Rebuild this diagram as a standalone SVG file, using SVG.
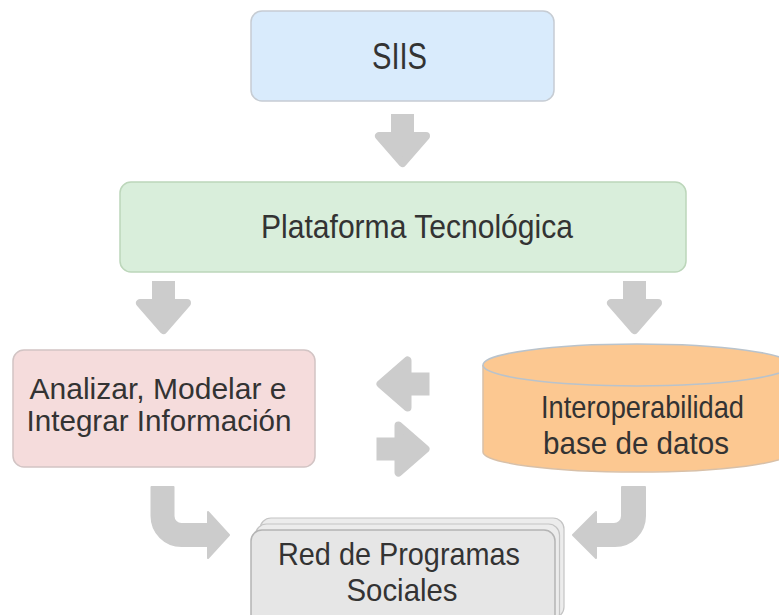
<svg xmlns="http://www.w3.org/2000/svg" xmlns:xlink="http://www.w3.org/1999/xlink" width="779" height="615" viewBox="0 0 779 615">
<style>
  .lbl { font-family: "Liberation Sans", Arial, sans-serif; fill: #333333; }
  .arrow { fill: #cccccc; }
  .head { fill: #cccccc; stroke: #cccccc; stroke-width: 8; stroke-linejoin: round; }
  .bent { fill: #cccccc; stroke: #cccccc; stroke-width: 2; stroke-linejoin: round; }
</style>
<defs>
  <g id="dArrow">
    <rect x="-11.5" y="0" width="23" height="26" class="arrow"/>
    <polygon points="-23.5,22 23.5,22 0,49" class="head"/>
  </g>
</defs>
<rect width="779" height="615" fill="#ffffff"/>

<g id="connectors">
  <use xlink:href="#dArrow" transform="translate(402.5,114)"/>
  <use xlink:href="#dArrow" transform="translate(163.5,281)"/>
  <use xlink:href="#dArrow" transform="translate(634.5,281)"/>
  <use xlink:href="#dArrow" transform="translate(429.5,384) rotate(90)"/>
  <use xlink:href="#dArrow" transform="translate(376.5,449) rotate(-90)"/>
  <path class="bent" d="M151.5,487 H173.5 V516 A8,8 0 0 0 181.5,524 H208 V512 L229,535 L208,558 V546 H181.5 A30,30 0 0 1 151.5,516 Z"/>
  <path class="bent" d="M645,487 V516 A30,30 0 0 1 615,546 H596 V558 L573,535 L596,512 V524 H614 A8,8 0 0 0 622,516 V487 Z"/>
</g>

<g id="siis">
  <rect x="251" y="11" width="303" height="90" rx="11" fill="#d9ebfc" stroke="#c6ccd3" stroke-width="1.5"/>
  <text class="lbl" x="372" y="69" font-size="36" textLength="55" lengthAdjust="spacingAndGlyphs">SIIS</text>
</g>

<g id="plataforma">
  <rect x="120" y="182" width="566" height="90" rx="11" fill="#d9eedb" stroke="#bcd6ba" stroke-width="1.5"/>
  <text class="lbl" x="261" y="237.5" font-size="34" textLength="312" lengthAdjust="spacingAndGlyphs">Plataforma Tecnológica</text>
</g>

<g id="analizar">
  <rect x="13" y="350" width="302" height="117" rx="11" fill="#f5dcdc" stroke="#d2c4c4" stroke-width="1.5"/>
  <text class="lbl" x="29.5" y="399" font-size="30" textLength="257" lengthAdjust="spacingAndGlyphs">Analizar, Modelar e</text>
  <text class="lbl" x="26.5" y="431" font-size="30" textLength="265" lengthAdjust="spacingAndGlyphs">Integrar Información</text>
</g>

<g id="interoperabilidad">
  <path d="M483,365 V452 A154,20 0 0 0 791,452 V365" fill="#fcc891" stroke="#d8c0a8" stroke-width="1.5"/>
  <ellipse cx="637" cy="365" rx="154" ry="21" fill="#fcc891" stroke="#b9c3cc" stroke-width="1.5"/>
  <text class="lbl" x="541" y="417.5" font-size="32" textLength="203" lengthAdjust="spacingAndGlyphs">Interoperabilidad</text>
  <text class="lbl" x="543" y="454" font-size="32" textLength="186" lengthAdjust="spacingAndGlyphs">base de datos</text>
</g>

<g id="red">
  <rect x="260" y="518" width="304" height="100" rx="11" fill="#ececec" stroke="#c4c4c4" stroke-width="1.2"/>
  <rect x="255.5" y="524" width="304" height="100" rx="11" fill="#ececec" stroke="#c4c4c4" stroke-width="1.2"/>
  <rect x="251" y="530" width="304" height="100" rx="11" fill="#e6e6e6" stroke="#b4b4b4" stroke-width="1.5"/>
  <text class="lbl" x="278" y="565" font-size="32" textLength="242" lengthAdjust="spacingAndGlyphs">Red de Programas</text>
  <text class="lbl" x="346.5" y="601" font-size="32" textLength="111" lengthAdjust="spacingAndGlyphs">Sociales</text>
</g>
</svg>
